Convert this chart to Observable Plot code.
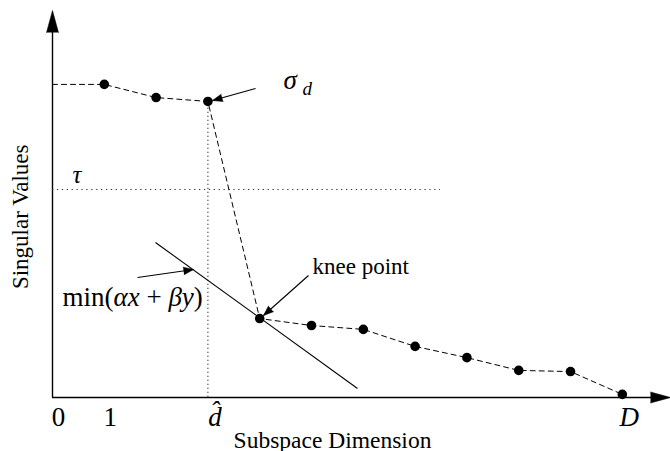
<!DOCTYPE html>
<html><head><meta charset="utf-8">
<script src="https://cdn.jsdelivr.net/npm/d3@7"></script>
<script src="https://cdn.jsdelivr.net/npm/@observablehq/plot@0.6"></script>
<style>body{margin:0;background:#fff;}</style>
</head><body><div id="chart"></div>
<script>
// ---- data ----
const dims = [1, 2, 3, 4, 5, 6, 7, 8, 9, 10, 11];
const singularValues = [8.09, 7.75, 7.65, 2.04, 1.86, 1.76, 1.32, 1.03, 0.70, 0.67, 0.08];
const tickPositions = [0, 1, 3, 11];
const tickLabels = ["0", "1", "d\u0302", "D"];
const tickItalic = [false, false, true, true];
const tauValue = 5.375;
const tauEnd = 7.49;
const dHat = 3;
const tangentX = [1.988, 5.888];
const tangentY = [4.005, 0.233];
const labelTexts = ["knee point", "min(\u03b1x + \u03b2y)", "\u03c3", "d", "\u03c4"];
const labelX = [5.019, 0.193, 4.459, 4.826, 0.386];
const labelY = [3.204, 2.377, 7.984, 7.804, 5.530];
const arrowFromX = [4.942, 1.641, 3.919];
const arrowFromY = [3.152, 3.101, 7.984];
const arrowToX = [4.073, 2.722, 3.089];
const arrowToY = [2.119, 3.307, 7.674];
const xMax = 11.93, yMax = 10;
const xTitle = "Subspace Dimension";
const xTitlePos = 5.405;
const yTitle = "Singular Values";
const yTitlePos = 4.67;

// ---- derived tables ----
const points = dims.map((d, i) => ({x: d, y: singularValues[i]}));
const linePts = [{x: 0, y: singularValues[0]}, ...points];
const ticks = tickPositions.map((p, i) => ({x: p, label: tickLabels[i], italic: tickItalic[i]}));
const labels = labelTexts.map((t, i) => ({text: t, x: labelX[i], y: labelY[i]}));
const arrows = arrowFromX.map((_, i) => ({x1: arrowFromX[i], y1: arrowFromY[i], x2: arrowToX[i], y2: arrowToY[i]}));
const tangent = [{x1: tangentX[0], y1: tangentY[0], x2: tangentX[1], y2: tangentY[1]}];

const FONT = "Liberation Serif";

function build(angles) {
  return Plot.plot({
    width: 670, height: 451,
    marginLeft: 52, marginRight: 0, marginTop: 10, marginBottom: 54,
    x: {domain: [0, xMax], axis: null},
    y: {domain: [0, yMax], axis: null},
    style: {fontFamily: FONT, background: "white", color: "black"},
    marks: [
      // axes
      Plot.ruleX([0], {y1: 0, y2: yMax - 0.3, strokeWidth: 1.4, stroke: "black"}),
      Plot.ruleY([0], {x1: 0, x2: xMax - 0.2, strokeWidth: 1.4, stroke: "black"}),
      Plot.vector([{x: 0, y: yMax}], {x: "x", y: "y", rotate: 0, length: 22, r: 6, shape: "spike", anchor: "end", fill: "black", stroke: "black", strokeWidth: 0.5}),
      Plot.vector([{x: xMax, y: 0}], {x: "x", y: "y", rotate: 90, length: 20, r: 5.5, shape: "spike", anchor: "end", fill: "black", stroke: "black", strokeWidth: 0.5}),
      // reference lines
      Plot.ruleY([tauValue], {x1: 0, x2: tauEnd, stroke: "#333", strokeWidth: 1, strokeDasharray: "1.3,3.6"}),
      Plot.ruleX([dHat], {y1: 0, y2: singularValues[dHat - 1], stroke: "#333", strokeWidth: 1, strokeDasharray: "1.3,2.7"}),
      // tangent line
      Plot.link(tangent, {x1: "x1", y1: "y1", x2: "x2", y2: "y2", stroke: "black", strokeWidth: 1.1}),
      // series
      Plot.line(linePts, {x: "x", y: "y", stroke: "black", strokeWidth: 1, strokeDasharray: "5,4"}),
      Plot.dot(points, {x: "x", y: "y", r: 4.8, fill: "black"}),
      // annotation arrows
      Plot.link(arrows, {x1: "x1", y1: "y1", x2: "x2", y2: "y2", stroke: "black", strokeWidth: 1.1}),
      angles ? Plot.vector(arrows, {x: "x2", y: "y2", rotate: angles, length: 10, r: 3.8, shape: "spike", anchor: "end", fill: "black", stroke: "black", strokeWidth: 0.5}) : null,
      // tick labels
      Plot.text(ticks.filter(d => !d.italic), {x: "x", y: 0, text: "label", dx: 6, dy: 28, lineAnchor: "bottom", fontSize: 27, fontFamily: FONT, fill: "black"}),
      Plot.text(ticks.filter(d => d.italic), {x: "x", y: 0, text: "label", dx: 7, dy: 28, lineAnchor: "bottom", fontSize: 27, fontStyle: "italic", fontFamily: FONT, fill: "black"}),
      // axis titles
      Plot.text([xTitle], {x: xTitlePos, y: 0, text: d => d, dy: 50, lineAnchor: "bottom", fontSize: 23.5, fontFamily: FONT, fill: "black"}),
      Plot.text([yTitle], {x: 0, y: yTitlePos, text: d => d, dx: -25, rotate: -90, lineAnchor: "bottom", fontSize: 23, fontFamily: FONT, fill: "black"}),
      // annotations
      Plot.text([labels[0]], {x: "x", y: "y", text: "text", textAnchor: "start", lineAnchor: "bottom", fontSize: 23, fontFamily: FONT, fill: "black"}),
      Plot.text([labels[1]], {x: "x", y: "y", text: "text", textAnchor: "start", lineAnchor: "bottom", fontSize: 27, fontFamily: FONT, fill: "black", className: "minlabel"}),
      Plot.text([labels[2]], {x: "x", y: "y", text: "text", textAnchor: "start", lineAnchor: "bottom", fontSize: 27, fontStyle: "italic", fontFamily: FONT, fill: "black"}),
      Plot.text([labels[3]], {x: "x", y: "y", text: "text", textAnchor: "start", lineAnchor: "bottom", fontSize: 19, fontStyle: "italic", fontFamily: FONT, fill: "black"}),
      Plot.text([labels[4]], {x: "x", y: "y", text: "text", textAnchor: "start", lineAnchor: "bottom", fontSize: 25, fontStyle: "italic", fontFamily: FONT, fill: "black"})
    ]
  });
}

const probe = build(null);
const sx = probe.scale("x"), sy = probe.scale("y");
const angles = arrows.map(a => {
  const dx = sx.apply(a.x2) - sx.apply(a.x1);
  const dy = sy.apply(a.y2) - sy.apply(a.y1);
  return Math.atan2(dx, -dy) * 180 / Math.PI;
});
const chart = build(angles);

// split the min(...) label so that the variables are italic
const t = d3.select(chart).select(".minlabel text");
if (!t.empty()) {
  const full = t.text();
  const m = full.match(/^(min\()(\S+)( \+ )(\S+)(\))$/);
  if (m) {
    t.text(null);
    [[m[1], false], [m[2], true], [m[3], false], [m[4], true], [m[5], false]].forEach(([s, it]) => {
      const sp = t.append("tspan").text(s);
      if (it) sp.attr("font-style", "italic");
    });
  }
}
document.getElementById("chart").appendChild(chart);
</script>
</body></html>
